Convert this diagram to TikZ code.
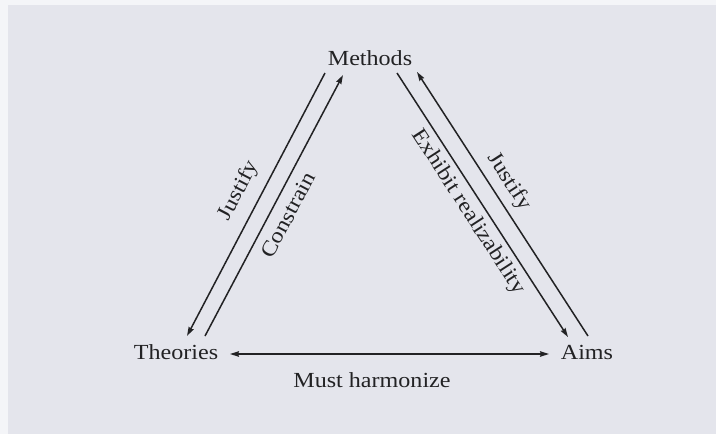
\documentclass[tikz,border=0pt]{standalone}
\usepackage{fontspec}
\setmainfont{Liberation Serif}[FakeStretch=1.12]
\usetikzlibrary{arrows.meta}
\definecolor{paper}{HTML}{E4E5EC}
\definecolor{edgestrip}{HTML}{F4F5F8}
\definecolor{ink}{HTML}{222224}
\tikzset{
  lbl/.style={text=ink, font=\fontsize{21.5}{24}\selectfont, inner sep=0pt},
  vtx/.style={lbl, anchor=base},
  conn/.style={draw=ink, line width=1.5pt, -{Stealth[length=9pt,width=5.5pt,inset=1pt]}},
  conn2/.style={conn, {Stealth[length=9pt,width=5.5pt,inset=1pt]}-{Stealth[length=9pt,width=5.5pt,inset=1pt]}}
}
\begin{document}
\begin{tikzpicture}[x=1pt,y=-1pt]
\useasboundingbox (0,0) rectangle (716,434);
\fill[edgestrip] (0,0) rectangle (716,434);
\fill[paper] (8,5) rectangle (716,434);
% vertices
\node[vtx] (methods) at (370,65) {Methods};
\node[vtx] (theories) at (176,359) {Theories};
\node[vtx] (aims) at (587,359) {Aims};
% connector end points
\coordinate (mL1) at (325,73);
\coordinate (mL2) at (343,75);
\coordinate (tL1) at (187,336);
\coordinate (tL2) at (205,336);
\coordinate (mR1) at (397,73);
\coordinate (mR2) at (417,72);
\coordinate (aR1) at (568,337);
\coordinate (aR2) at (588,336);
\coordinate (tB) at (230,354);
\coordinate (aB) at (549,354);
% connectors
\draw[conn] (mL1) -- (tL1);
\draw[conn] (tL2) -- (mL2);
\draw[conn] (mR1) -- (aR1);
\draw[conn] (aR2) -- (mR2);
\draw[conn2] (tB) -- (aB);
% labels
\node[lbl, rotate=62.3] (justL) at (239,191) {Justify};
\node[lbl, rotate=62.2] (constr) at (288,215) {Constrain};
\node[lbl, rotate=-57.1] (exhib) at (468,212) {Exhibit realizability};
\node[lbl, rotate=-57.1] (justR) at (509,182) {Justify};
\node[vtx] (harm) at (372,387) {Must harmonize};
\end{tikzpicture}
\end{document}
